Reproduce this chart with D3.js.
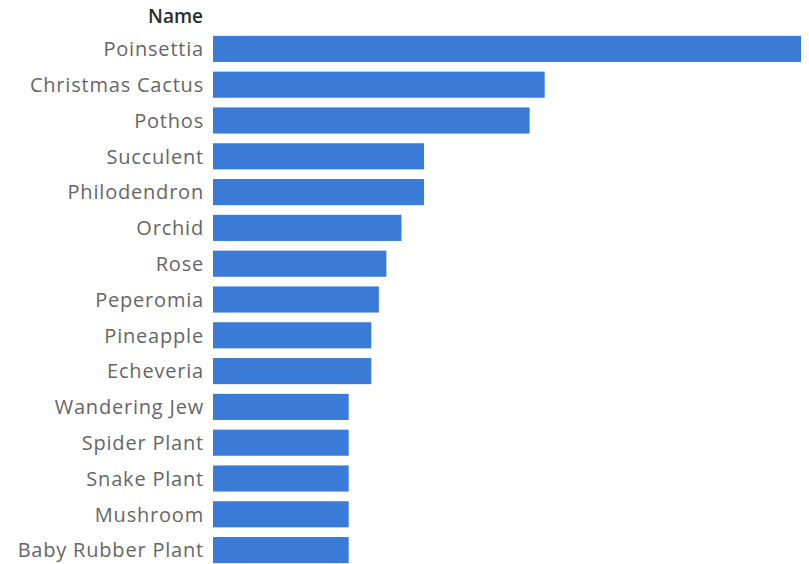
<!DOCTYPE html>
<html>
<head>
<meta charset="utf-8">
<script src="https://cdn.jsdelivr.net/npm/d3@7"></script>
<style>
  body { margin: 0; background: #fff; }
  text { font-family: "Open Sans", sans-serif; }
</style>
</head>
<body>
<div id="chart"></div>
<script>
// plant names and counts
var names = ["Poinsettia", "Christmas Cactus", "Pothos", "Succulent", "Philodendron",
  "Orchid", "Rose", "Peperomia", "Pineapple", "Echeveria", "Wandering Jew",
  "Spider Plant", "Snake Plant", "Mushroom", "Baby Rubber Plant"];
var counts = [78, 44, 42, 28, 28, 25, 23, 22, 21, 21, 18, 18, 18, 18, 18];

var width = 809,
    height = 564;

var svg = d3.select("#chart")
  .append("svg")
    .attr("width", width)
    .attr("height", height);

var x = d3.scaleLinear()
  .domain([0, 78])
  .range([213, 801]);

var y = d3.scaleBand()
  .domain(names)
  .range([31, 568])
  .paddingInner(0.27)
  .paddingOuter(0.135);

var rows = names.map(function(n, i) { return {name: n, value: counts[i]}; });

// bars
svg.selectAll("rect")
  .data(rows)
  .enter()
  .append("rect")
    .attr("x", x(0))
    .attr("y", function(d) { return y(d.name); })
    .attr("width", function(d) { return x(d.value) - x(0); })
    .attr("height", y.bandwidth())
    .attr("fill", "#3b7bd8");

// row labels
svg.selectAll("text.label")
  .data(rows)
  .enter()
  .append("text")
    .attr("class", "label")
    .attr("x", 204)
    .attr("y", function(d) { return y(d.name) + y.bandwidth() / 2; })
    .attr("dy", "0.36em")
    .attr("text-anchor", "end")
    .attr("fill", "#666666")
    .style("font-size", "20px")
    .style("letter-spacing", "0.8px")
    .text(function(d) { return d.name; });

// header
svg.append("text")
  .attr("x", 203)
  .attr("y", 23)
  .attr("text-anchor", "end")
  .attr("fill", "#2b2b2b")
  .style("font-size", "19px")
  .style("font-weight", "600")
  .text("Name");
</script>
</body>
</html>
